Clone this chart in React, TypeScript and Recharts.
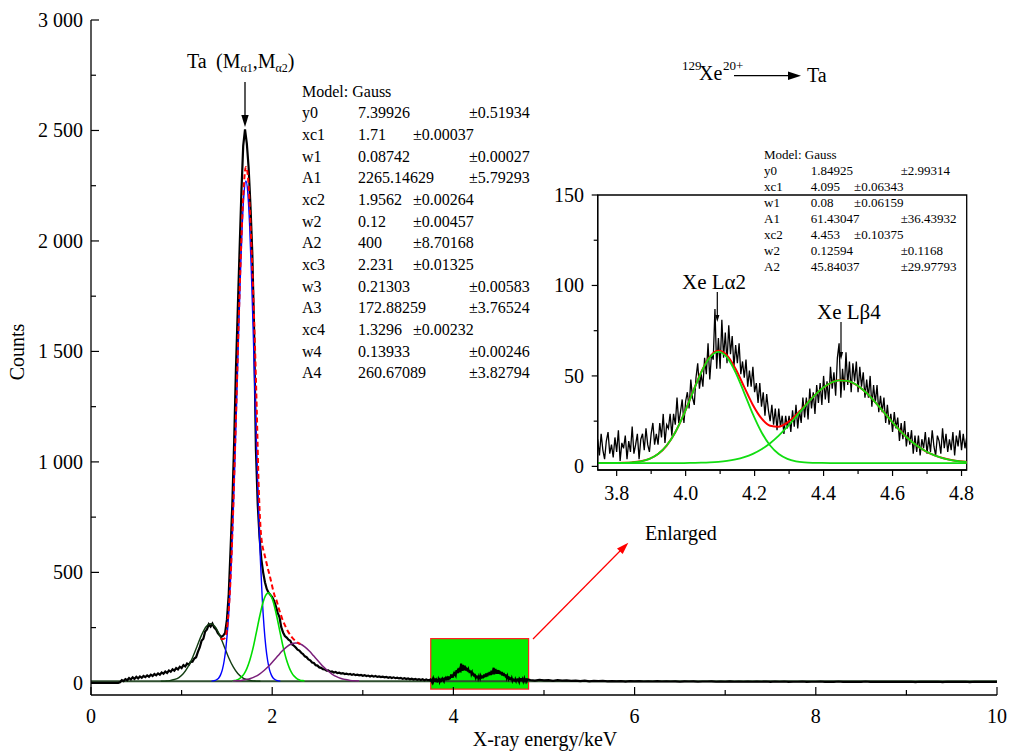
import React from 'react';
import { LineChart, Line, XAxis, YAxis, ReferenceArea } from 'recharts';

// Spectrum channels (counts). Channels are evenly spaced,
// so each block is stored as a start energy, a step and the counts.
const LOW_START = 0;
const LOW_STEP = 0.02;
const lowCounts = [
  0, 0, 0, 0, 0, 0, 0, 0, 0, 0,
  0, 0, 0, 0, 0, 0, 3, 12, 8, 17,
  12, 22, 15, 25, 18, 27, 20, 29, 23, 31,
  26, 34, 28, 37, 31, 40, 34, 43, 37, 47,
  41, 51, 45, 56, 50, 61, 55, 67, 61, 73,
  67, 80, 74, 87, 82, 95, 96, 110, 116, 140,
  160, 190, 200, 232, 242, 265, 255, 268, 250, 242,
  225, 215, 208, 214, 226, 285, 400, 600, 810, 1090,
  1425, 1690, 1960, 2220, 2430, 2505, 2440, 2330, 2160, 1950,
  1600, 1060, 810, 660, 560, 500, 455, 425, 408, 398,
  388, 372, 348, 318, 298, 252, 228, 212, 205, 195,
  190, 174, 168, 160, 150, 146, 136, 130, 120, 116,
  106, 102, 92, 90, 80, 78, 70, 68, 62, 61,
  55, 56, 50, 52, 47, 49, 44, 46, 42, 44,
  40, 42, 38, 40, 36, 39, 35, 37, 34, 36,
  32, 35, 31, 33, 29, 32, 28, 31, 27, 29,
  26, 28, 25, 27, 23, 26, 22, 25, 21, 23,
  20, 22, 18, 21, 17, 20, 16, 19, 15, 18,
  14, 17, 13, 16, 12, 15, 12, 14,
];

// the Xe L region, also shown enlarged in the inset
const ZOOM_START = 3.745;
const ZOOM_STEP = 0.005;
const zoomCounts = [
  15, 6, 18, 9, 4, 14, 19, 7, 12, 5, 16, 8, 20, 3, 13, 10, 17, 4, 14, 8,
  22, 7, 12, 18, 4, 15, 18, 9, 21, 12, 8, 18, 24, 12, 18, 12, 24, 16, 29, 13,
  23, 21, 29, 17, 29, 23, 38, 24, 30, 37, 24, 36, 41, 32, 48, 38, 34, 49, 57, 43,
  51, 44, 60, 51, 68, 48, 62, 59, 87, 54, 71, 54, 81, 60, 74, 57, 78, 62, 72, 55,
  67, 57, 68, 51, 58, 49, 59, 44, 53, 44, 55, 41, 46, 35, 46, 33, 41, 28, 40, 31,
  25, 34, 23, 32, 20, 32, 22, 28, 18, 28, 21, 28, 19, 31, 22, 34, 21, 31, 24, 38,
  27, 38, 26, 43, 32, 41, 29, 45, 35, 46, 34, 50, 37, 47, 35, 55, 43, 52, 39, 60,
  68, 38, 54, 42, 63, 45, 58, 41, 57, 47, 58, 41, 55, 44, 52, 38, 48, 38, 50, 33,
  45, 35, 45, 30, 39, 30, 38, 24, 34, 23, 29, 19, 30, 21, 27, 14, 24, 15, 25, 11,
  19, 12, 20, 7, 17, 8, 17, 6, 15, 10, 19, 7, 16, 8, 20, 11, 6, 17, 14, 7,
  21, 10, 18, 8, 15, 9, 19, 6, 17, 11, 20, 9, 18, 10, 16,
];

const TAIL_START = 4.85;
const TAIL_STEP = 0.05;
const tailCounts = [
  13, 10, 14, 11, 12, 9, 12, 10, 11, 9,
  10, 8, 10, 7, 9, 8, 9, 7, 8, 7,
  8, 6, 8, 7, 8, 6, 7, 6, 8, 6,
  7, 6, 7, 5, 7, 6, 7, 5, 6, 6,
  7, 5, 6, 5, 7, 5, 6, 5, 6, 5,
  6, 5, 6, 4, 6, 5, 6, 4, 5, 5,
  6, 4, 5, 5, 6, 4, 5, 4, 6, 4,
  5, 4, 5, 4, 6, 4, 5, 4, 5, 4,
  5, 4, 5, 4, 5, 3, 5, 4, 5, 4,
  5, 3, 5, 4, 5, 4, 5, 3, 5, 4,
  5, 4, 5, 4,
];

// fitted Gauss components of the main spectrum
const Y0 = 7.4;
const g4Start = 0.77;
const g4Step = 0.05;
const g4Vals = [7, 8, 10, 15, 24, 42, 72, 114, 165, 216, 254, 268, 254, 216, 165, 114, 72, 42, 24, 15, 10, 8, 7];
const g1Start = 1.33;
const g1Step = 0.02;
const g1Vals = [
  8, 9, 11, 15, 22, 36, 60, 100, 162, 254, 383, 555, 772, 1027, 1309, 1596, 1862, 2080, 2222,
  2272,
  2222, 2080, 1862, 1596, 1309, 1027, 772, 555, 383, 254, 162, 100, 60, 36, 22, 15, 11, 9, 8,
];
const g2Start = 1.556;
const g2Step = 0.02;
const g2Vals = [
  9, 10, 11, 14, 18, 25, 33, 45, 61, 82, 107, 137, 171, 210, 250, 290, 327, 360, 385, 401,
  407,
  401, 385, 360, 327, 290, 250, 210, 171, 137, 107, 82, 61, 45, 33, 25, 18, 14, 11, 10, 9,
];
const g3Start = 1.56;
const g3Step = 0.05;
const g3Vals = [8, 9, 11, 15, 20, 28, 40, 56, 75, 98, 121, 144, 163, 176, 180, 176, 163, 144, 121, 98, 75, 56, 40, 28, 20, 15, 11, 9, 8];
const sumStart = 1.43;
const sumStep = 0.02;
const sumVals = [
  200, 198, 200, 215, 280, 390, 560, 790, 1060, 1340, 1630, 1890, 2110, 2270, 2335,
  2300, 2170, 1980, 1770, 1520, 1230, 900, 710, 625, 590, 555, 520, 490, 455, 420,
  390, 370, 340, 315, 290, 270, 252, 236, 222, 210, 200, 192, 185, 180, 176,
];

// inset fit curves
const insetFitStart = 3.745;
const insetFitStep = 0.025;
const insetFitA = [
  1.85, 1.85, 1.89, 1.97, 2.21, 2.81, 4.15, 6.81, 11.52, 18.86, 28.85, 40.54, 51.87, 60.21,
  63.28, 60.21, 51.87, 40.54, 28.85, 18.86, 11.52, 6.81, 4.15, 2.81, 2.21, 1.97, 1.89,
  1.85, 1.85, 1.85, 1.85, 1.85, 1.85, 1.85, 1.85, 1.85, 1.85, 1.85, 1.85, 1.85, 1.85, 1.85, 1.85, 1.85,
];
const insetFitB = [
  1.85, 1.85, 1.85, 1.85, 1.85, 1.85, 1.85, 1.85, 1.85, 1.85, 1.85,
  1.94, 2.04, 2.21, 2.51, 3.02, 3.84, 5.1, 6.93, 9.47, 12.82, 17.0, 21.94, 27.4, 33.03, 38.36, 42.87,
  46.07, 47.59, 47.25, 45.1, 41.37, 36.51, 31.01, 25.39, 20.09, 15.41, 11.52, 8.47, 6.2, 4.59, 3.5, 2.81, 2.38,
];
const insetFitSum = [
  1.85, 1.85, 1.89, 1.97, 2.21, 2.81, 4.15, 6.81, 11.52, 18.86, 28.85,
  40.63, 52.06, 60.57, 63.94, 61.38, 53.86, 43.79, 33.93, 26.48, 22.49, 21.96, 24.24, 28.36, 33.39, 38.48, 42.91,
  46.07, 47.59, 47.25, 45.1, 41.37, 36.51, 31.01, 25.39, 20.09, 15.41, 11.52, 8.47, 6.2, 4.59, 3.5, 2.81, 2.38,
];

const mainXTicks = [0, 1, 2, 3, 4, 5, 6, 7, 8, 9, 10];
const mainYTicks = [0, 250, 500, 750, 1000, 1250, 1500, 1750, 2000, 2250, 2500, 2750, 3000];
const insetXTicks = [3.8, 3.9, 4.0, 4.1, 4.2, 4.3, 4.4, 4.5, 4.6, 4.7, 4.8];
const insetYTicks = [0, 25, 50, 75, 100, 125, 150];

// fit results printed in the figure: [name, value, error, error in short column]
const mainParams: [string, string, string, boolean][] = [
  ['y0', '7.39926', '±0.51934', false],
  ['xc1', '1.71', '±0.00037', true],
  ['w1', '0.08742', '±0.00027', false],
  ['A1', '2265.14629', '±5.79293', false],
  ['xc2', '1.9562', '±0.00264', true],
  ['w2', '0.12', '±0.00457', true],
  ['A2', '400', '±8.70168', true],
  ['xc3', '2.231', '±0.01325', true],
  ['w3', '0.21303', '±0.00583', false],
  ['A3', '172.88259', '±3.76524', false],
  ['xc4', '1.3296', '±0.00232', true],
  ['w4', '0.13933', '±0.00246', false],
  ['A4', '260.67089', '±3.82794', false],
];
const insetParams: [string, string, string, boolean][] = [
  ['y0', '1.84925', '±2.99314', false],
  ['xc1', '4.095', '±0.06343', true],
  ['w1', '0.08', '±0.06159', true],
  ['A1', '61.43047', '±36.43932', false],
  ['xc2', '4.453', '±0.10375', true],
  ['w2', '0.12594', '±0.1168', false],
  ['A2', '45.84037', '±29.97793', false],
];

const toPoints = (start: number, step: number, vals: number[]) =>
  vals.map((y, i) => ({ x: +(start + i * step).toFixed(4), y }));

const spectrum = [
  ...toPoints(LOW_START, LOW_STEP, lowCounts),
  ...toPoints(ZOOM_START, ZOOM_STEP, zoomCounts),
  ...toPoints(TAIL_START, TAIL_STEP, tailCounts),
];
const zoomSpectrum = toPoints(ZOOM_START, ZOOM_STEP, zoomCounts);
const baseline = [{ x: 0, y: Y0 }, { x: 10, y: Y0 }];

const FONT = '"Liberation Serif", "Times New Roman", serif';
const AXIS_X = 91;
const AXIS_Y = 695;
const IN_AXIS_X = 57.7;
const IN_AXIS_Y = 290;

const fmtCounts = (v: number) =>
  v >= 1000 ? `${Math.floor(v / 1000)} ${String(v % 1000).padStart(3, '0')}` : String(v);

const MainXTick = (props: any) => {
  const { x, payload } = props;
  const v = payload.value;
  const major = v % 2 === 0;
  return (
    <g>
      <line x1={x} x2={x} y1={AXIS_Y} y2={AXIS_Y - (major ? 8 : 5)} stroke="#000" strokeWidth={1.2} />
      {major && (
        <text x={x} y={AXIS_Y + 28} textAnchor="middle" fontSize={20} fontFamily={FONT} fill="#000">
          {v}
        </text>
      )}
    </g>
  );
};

const MainYTick = (props: any) => {
  const { y, payload } = props;
  const v = payload.value;
  const major = v % 500 === 0;
  return (
    <g>
      <line x1={AXIS_X} x2={AXIS_X + (major ? 8 : 5)} y1={y} y2={y} stroke="#000" strokeWidth={1.2} />
      {major && (
        <text x={83} y={y + 7} textAnchor="end" fontSize={20} fontFamily={FONT} fill="#000">
          {fmtCounts(v)}
        </text>
      )}
    </g>
  );
};

const InsetXTick = (props: any) => {
  const { x, payload } = props;
  const v = payload.value;
  const major = Math.round(v * 10) % 2 === 0;
  return (
    <g>
      <line x1={x} x2={x} y1={IN_AXIS_Y} y2={IN_AXIS_Y + (major ? 6 : 4)} stroke="#000" strokeWidth={1.2} />
      {major && (
        <text x={x} y={IN_AXIS_Y + 30} textAnchor="middle" fontSize={20} fontFamily={FONT} fill="#000">
          {v.toFixed(1)}
        </text>
      )}
    </g>
  );
};

const InsetYTick = (props: any) => {
  const { y, payload } = props;
  const v = payload.value;
  const major = v % 50 === 0;
  return (
    <g>
      <line x1={IN_AXIS_X} x2={IN_AXIS_X - (major ? 6 : 4)} y1={y} y2={y} stroke="#000" strokeWidth={1.2} />
      {major && (
        <text x={44} y={y + 7} textAnchor="end" fontSize={20} fontFamily={FONT} fill="#000">
          {v}
        </text>
      )}
    </g>
  );
};

const ParamBlock = ({ rows, x, y, dy, cols, size }: any) => (
  <g fontFamily={FONT} fontSize={size} fill="#000">
    <text x={x} y={y}>Model: Gauss</text>
    {rows.map((r: [string, string, string, boolean], i: number) => (
      <g key={r[0]}>
        <text x={x} y={y + dy * (i + 1)}>{r[0]}</text>
        <text x={cols[0]} y={y + dy * (i + 1)}>{r[1]}</text>
        <text x={r[3] ? cols[1] : cols[2]} y={y + dy * (i + 1)}>{r[2]}</text>
      </g>
    ))}
  </g>
);

const Annotations = () => (
  <svg
    width={1010}
    height={753}
    style={{ position: 'absolute', left: 0, top: 0, pointerEvents: 'none', overflow: 'visible' }}
  >
    <g fontFamily={FONT} fill="#000">
      <text x={24} y={352} fontSize={20} textAnchor="middle" transform="rotate(-90 24 352)">Counts</text>
      <text x={545} y={746} fontSize={20} textAnchor="middle">X-ray energy/keV</text>

      <text x={187} y={68} fontSize={20}>Ta</text>
      <text x={216} y={68} fontSize={20}>
        (M<tspan dy={4} fontSize={12}>α1</tspan>
        <tspan dy={-4}>,M</tspan>
        <tspan dy={4} fontSize={12}>α2</tspan>
        <tspan dy={-4}>)</tspan>
      </text>
      <line x1={245} x2={245} y1={82} y2={117} stroke="#000" strokeWidth={1.3} />
      <polygon points="241.3,115 248.7,115 245,127" fill="#000" />

      <text x={682} y={70} fontSize={13}>129</text>
      <text x={699} y={80} fontSize={20}>Xe</text>
      <text x={723} y={70} fontSize={13}>20+</text>
      <line x1={734} x2={790} y1={75.7} y2={75.7} stroke="#000" strokeWidth={1.3} />
      <polygon points="788,71.5 788,79.9 801,75.7" fill="#000" />
      <text x={807} y={82} fontSize={20}>Ta</text>

      <text x={645} y={540} fontSize={20}>Enlarged</text>
      <line x1={533} y1={639} x2={621} y2={550} stroke="#f00" strokeWidth={1.2} />
      <polygon points="628.3,542.7 622.7,554 617,548.4" fill="#f00" />

      <text x={682} y={289} fontSize={21}>Xe Lα2</text>
      <line x1={717.3} x2={717.3} y1={292} y2={317} stroke="#000" strokeWidth={1.2} />
      <polygon points="715.2,315 719.4,315 717.3,322" fill="#000" />
      <text x={817} y={319} fontSize={21}>Xe Lβ4</text>
      <line x1={841} x2={841} y1={322} y2={354} stroke="#000" strokeWidth={1.2} />
      <polygon points="838.9,352 843.1,352 841,360" fill="#000" />
    </g>
    <ParamBlock rows={mainParams} x={302} y={96.5} dy={21.67} cols={[358, 413, 469]} size={16} />
    <ParamBlock rows={insetParams} x={764} y={158.8} dy={16} cols={[810.7, 854, 900.7]} size={13} />
  </svg>
);

const App: React.FC = () => {
  return (
    <div style={{ position: 'absolute', left: 0, top: 0, width: 1010, height: 753, background: '#fff' }}>
      <div style={{ position: 'absolute', left: 0, top: 0 }}>
        <LineChart width={1010} height={753} margin={{ top: 20, right: 13, bottom: 0, left: 0 }}>
          <XAxis
            type="number"
            dataKey="x"
            domain={[0, 10]}
            allowDataOverflow
            ticks={mainXTicks}
            interval={0}
            tick={<MainXTick />}
            tickLine={false}
            axisLine={{ stroke: '#000', strokeWidth: 1.3 }}
            height={58}
          />
          <YAxis
            type="number"
            domain={[-55, 3000]}
            allowDataOverflow
            ticks={mainYTicks}
            interval={0}
            tick={<MainYTick />}
            tickLine={false}
            axisLine={{ stroke: '#000', strokeWidth: 1.3 }}
            width={91}
          />
          <ReferenceArea x1={3.75} x2={4.83} y1={-28} y2={200} fill="#00f000" fillOpacity={1} stroke="#ff2020" strokeWidth={1.2} />
          <Line data={baseline} dataKey="y" stroke="#2f4f2f" strokeWidth={2} dot={false} isAnimationActive={false} />
          <Line data={spectrum} dataKey="y" type="linear" stroke="#000" strokeWidth={2.2} dot={false} isAnimationActive={false} />
          <Line data={toPoints(g4Start, g4Step, g4Vals)} dataKey="y" type="monotone" stroke="#123d12" strokeWidth={1.4} dot={false} isAnimationActive={false} />
          <Line data={toPoints(g1Start, g1Step, g1Vals)} dataKey="y" type="monotone" stroke="#0000ff" strokeWidth={1.4} dot={false} isAnimationActive={false} />
          <Line data={toPoints(g2Start, g2Step, g2Vals)} dataKey="y" type="monotone" stroke="#00dd00" strokeWidth={1.6} dot={false} isAnimationActive={false} />
          <Line data={toPoints(g3Start, g3Step, g3Vals)} dataKey="y" type="monotone" stroke="#7a1f7a" strokeWidth={1.5} dot={false} isAnimationActive={false} />
          <Line data={toPoints(sumStart, sumStep, sumVals)} dataKey="y" type="monotone" stroke="#ff0000" strokeWidth={2} strokeDasharray="5 3" dot={false} isAnimationActive={false} />
        </LineChart>
      </div>

      <div style={{ position: 'absolute', left: 540, top: 180 }}>
        <LineChart width={440} height={330} margin={{ top: 15, right: 13.3, bottom: 0, left: 0 }}>
          <XAxis
            type="number"
            dataKey="x"
            domain={[3.745, 4.815]}
            allowDataOverflow
            ticks={insetXTicks}
            interval={0}
            tick={<InsetXTick />}
            tickLine={false}
            axisLine={{ stroke: '#000', strokeWidth: 1.3 }}
            height={40}
          />
          <YAxis
            type="number"
            domain={[-2, 150]}
            allowDataOverflow
            ticks={insetYTicks}
            interval={0}
            tick={<InsetYTick />}
            tickLine={false}
            axisLine={{ stroke: '#000', strokeWidth: 1.3 }}
            width={57.7}
          />
          <ReferenceArea x1={3.745} x2={4.815} y1={-2} y2={150} fill="none" fillOpacity={0} stroke="#000" strokeWidth={1.3} />
          <Line data={zoomSpectrum} dataKey="y" type="linear" stroke="#000" strokeWidth={1.3} dot={false} isAnimationActive={false} />
          <Line data={toPoints(insetFitStart, insetFitStep, insetFitSum)} dataKey="y" type="monotone" stroke="#ff0000" strokeWidth={2} dot={false} isAnimationActive={false} />
          <Line data={toPoints(insetFitStart, insetFitStep, insetFitA)} dataKey="y" type="monotone" stroke="#11dd11" strokeWidth={1.8} dot={false} isAnimationActive={false} />
          <Line data={toPoints(insetFitStart, insetFitStep, insetFitB)} dataKey="y" type="monotone" stroke="#11dd11" strokeWidth={1.8} dot={false} isAnimationActive={false} />
        </LineChart>
      </div>

      <Annotations />
    </div>
  );
};

export default App;
